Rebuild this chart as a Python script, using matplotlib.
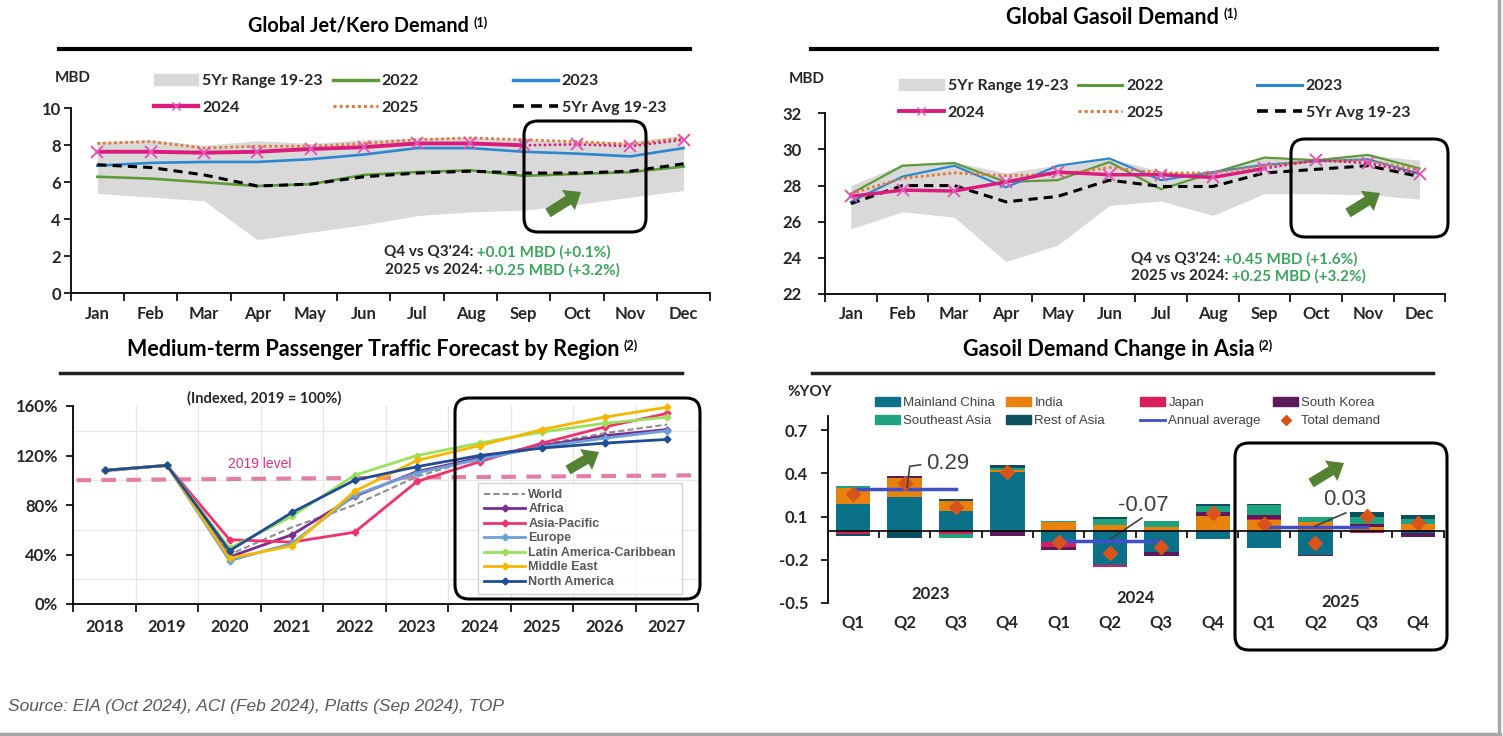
import numpy as np
import matplotlib
matplotlib.use('Agg')
import matplotlib.pyplot as plt
from matplotlib.patches import FancyBboxPatch, FancyArrow, Patch
from matplotlib.lines import Line2D
from matplotlib.legend import Legend

plt.rcParams['font.family'] = ['Lato', 'DejaVu Sans']

months = ['Jan', 'Feb', 'Mar', 'Apr', 'May', 'Jun', 'Jul', 'Aug', 'Sep', 'Oct', 'Nov', 'Dec']

# Global Jet/Kero demand (MBD)
jet_lo = [5.4, 5.2, 5.0, 2.9, 3.3, 3.7, 4.2, 4.4, 4.5, 4.8, 5.2, 5.55]
jet_hi = [8.2, 8.3, 8.0, 8.25, 8.1, 8.3, 8.4, 8.45, 8.3, 8.2, 8.2, 8.55]
jet_2022 = [6.3, 6.2, 6.0, 5.8, 5.9, 6.4, 6.55, 6.65, 6.35, 6.45, 6.55, 6.85]
jet_2023 = [6.9, 7.05, 7.1, 7.1, 7.25, 7.5, 7.85, 7.85, 7.65, 7.55, 7.4, 7.85]
jet_2024 = [7.65, 7.65, 7.6, 7.65, 7.8, 7.9, 8.1, 8.1, 8.0, 8.05, 7.95, 8.3]
jet_2025 = [8.1, 8.2, 7.85, 7.95, 7.95, 8.1, 8.3, 8.4, 8.3, 8.2, 8.05, 8.4]
jet_avg = [6.95, 6.8, 6.4, 5.8, 5.9, 6.3, 6.5, 6.6, 6.5, 6.5, 6.6, 7.0]

# Global gasoil demand (MBD)
gas_lo = [25.6, 26.55, 26.25, 23.8, 24.7, 26.9, 27.15, 26.35, 27.55, 27.55, 27.5, 27.25]
gas_hi = [28.0, 29.2, 29.3, 28.7, 29.15, 29.5, 28.8, 28.7, 29.6, 29.5, 29.7, 29.4]
gas_2022 = [27.55, 29.1, 29.25, 28.2, 28.3, 29.3, 27.8, 28.7, 29.55, 29.4, 29.7, 28.95]
gas_2023 = [27.1, 28.5, 29.1, 27.9, 29.1, 29.5, 28.3, 28.75, 29.15, 29.35, 29.45, 28.65]
gas_2024 = [27.4, 27.75, 27.7, 28.2, 28.75, 28.6, 28.6, 28.45, 28.95, 29.4, 29.25, 28.65]
gas_2025 = [27.55, 28.4, 28.7, 28.55, 28.6, 29.0, 28.7, 28.7, 29.1, 29.35, 29.4, 28.85]
gas_avg = [27.0, 28.0, 28.0, 27.1, 27.4, 28.3, 27.95, 27.95, 28.7, 28.9, 29.1, 28.5]

# Passenger traffic, indexed 2019 = 100%
years = ['2018', '2019', '2020', '2021', '2022', '2023', '2024', '2025', '2026', '2027']
world = [107, 112, 40, 62, 80, 103, 118, 129, 138, 145]
africa = [108, 112, 38, 56, 87, 107, 118, 128, 136, 141]
asia_pac = [108, 112, 52, 50, 58, 99, 115, 130, 143, 154]
europe = [108, 112, 35, 49, 88, 106, 117, 127, 134, 140]
latam = [108, 112, 45, 71, 104, 120, 130, 139, 146, 151]
mideast = [108, 112, 37, 47, 91, 116, 128, 141, 151, 159]
n_america = [108, 112, 43, 74, 100, 111, 120, 126, 130, 133]
level_2019 = [100, 104]

# Gasoil demand change in Asia (%YOY)
quarters = ['Q1', 'Q2', 'Q3', 'Q4'] * 3
qyears = ['2023', '2024', '2025']
china = [0.19, 0.235, 0.14, 0.41, -0.075, -0.24, -0.145, -0.055, -0.12, -0.165, 0.0, -0.015]
india = [0.11, 0.135, 0.065, 0.015, 0.06, 0.04, 0.03, 0.107, 0.075, 0.06, 0.03, 0.045]
japan = [-0.02, 0.0, -0.02, 0.0, -0.04, -0.01, 0.0, 0.0, 0.01, 0.0, -0.015, 0.0]
skorea = [0.0, 0.015, 0.0, -0.035, -0.015, 0.0, -0.03, 0.023, 0.025, -0.01, 0.015, -0.03]
se_asia = [0.01, 0.0, -0.03, 0.015, 0.01, 0.04, 0.04, 0.045, 0.07, 0.04, 0.05, 0.04]
rest_asia = [-0.015, -0.05, 0.015, 0.02, 0.0, 0.02, 0.0, 0.015, 0.01, 0.0, 0.035, 0.025]
total_dem = [0.26, 0.33, 0.165, 0.41, -0.075, -0.155, -0.115, 0.125, 0.05, -0.085, 0.105, 0.055]
annual_avg = [0.29, -0.07, 0.03]

c_rng = '#D9D9D9'
c22 = '#5E9A3A'
c23 = '#2B88D0'
c24 = '#DC1C7C'
c25 = '#E07B39'
c_txt = '#262626'
c_green = '#3BA55C'
c_arrow = '#548235'

W, H = 1503, 736
fig = plt.figure(figsize=(W / 100, H / 100), dpi=100)


def box(l, t, r, b):
    return [l / W, 1 - b / H, (r - l) / W, (b - t) / H]


ax1 = fig.add_axes(box(70.7, 108.3, 710.3, 293.3))
ax2 = fig.add_axes(box(825, 113.3, 1445.4, 294))
ax3 = fig.add_axes(box(73.3, 406, 698.3, 604))
ax4 = fig.add_axes(box(827.6, 416, 1443.8, 602.7))
ov = fig.add_axes([0, 0, 1, 1], zorder=10)
ov.set_xlim(0, W)
ov.set_ylim(H, 0)
ov.axis('off')
ov.patch.set_alpha(0)


def month_panel(ax, lo, hi, y22, y23, y24, y25, avg, ylim, ypad, lw):
    x = np.arange(len(months))
    ax.fill_between(x, lo, hi, color=c_rng, lw=0, zorder=1)
    ax.plot(x, y22, color=c22, lw=lw, zorder=3)
    ax.plot(x, y23, color=c23, lw=lw, zorder=3)
    ax.plot(x, avg, color='black', lw=2.2, ls=(0, (3, 2)), zorder=4)
    ax.plot(x, y25, color=c25, lw=2, ls=(0, (1, 1)), zorder=5)
    ax.plot(x[:9], y24[:9], color=c24, lw=lw + 0.9, zorder=6)
    ax.plot(x[8:], y24[8:], color=c24, lw=1.8, ls=(0, (1, 1)), zorder=6)
    ax.plot(x, y24, ls='none', marker='x', ms=8, mew=1.4, color='#E455B8', zorder=7)
    ax.set_xlim(-0.5, 11.5)
    ax.set_ylim(*ylim)
    ax.set_xticks(x)
    ax.set_xticklabels(months, fontsize=12, fontweight='bold', color=c_txt)
    ax.set_xticks(np.arange(-0.5, 12, 1), minor=True)
    ax.tick_params(axis='x', which='major', length=0, pad=9)
    ax.tick_params(axis='x', which='minor', length=6, width=1.2)
    ax.tick_params(axis='y', length=5, width=1.2, pad=ypad, labelsize=12)
    for s in ['top', 'right']:
        ax.spines[s].set_visible(False)
    for s in ['left', 'bottom']:
        ax.spines[s].set_linewidth(1.3)


month_panel(ax1, jet_lo, jet_hi, jet_2022, jet_2023, jet_2024, jet_2025, jet_avg, (0, 10), 2, 1.9)
ax1.set_yticks(range(0, 11, 2))
month_panel(ax2, gas_lo, gas_hi, gas_2022, gas_2023, gas_2024, gas_2025, gas_avg, (22, 32), 12, 1.6)
ax2.set_yticks(range(22, 33, 2))
for ax in (ax1, ax2):
    for lab in ax.get_yticklabels():
        lab.set_fontweight('bold')
        lab.set_color(c_txt)


def add_legend(handles, labels, x, y, fs, hl, ls, color=c_txt, weight='bold', family=None, **kw):
    prop = {'size': fs, 'weight': weight}
    if family:
        prop['family'] = family
    leg = Legend(ov, handles, labels, loc='upper left', bbox_to_anchor=(x, y),
                 bbox_transform=ov.transData, frameon=False, prop=prop,
                 handlelength=hl, handletextpad=0.25, labelspacing=ls,
                 borderpad=0, borderaxespad=0, **kw)
    for t in leg.get_texts():
        t.set_color(color)
    ov.add_artist(leg)
    return leg


def month_legend(xs, y, lw):
    h_rng = Patch(color=c_rng)
    h22 = Line2D([], [], color=c22, lw=lw + 0.6)
    h23 = Line2D([], [], color=c23, lw=lw + 0.6)
    h24 = Line2D([], [], color=c24, lw=lw + 1.2, marker='x', ms=6, mec='#E455B8', markevery=[1])
    h25 = Line2D([], [], color=c25, lw=2.2, ls=(0, (1, 1)))
    havg = Line2D([], [], color='black', lw=2.6, ls=(0, (3, 2)))
    add_legend([h_rng, h24], ['5Yr Range 19-23', '2024'], xs[0], y, 11.5, 2.8, 0.78)
    add_legend([h22, h25], ['2022', '2025'], xs[1], y, 11.5, 2.8, 0.78)
    add_legend([h23, havg], ['2023', '5Yr Avg 19-23'], xs[2], y, 11.5, 2.8, 0.78)


month_legend([153.6, 333, 513], 74, 1.9)
month_legend([899, 1077.5, 1257], 79, 1.6)

# passenger traffic
x3 = np.arange(len(years))
ax3.set_xlim(-0.5, 9.5)
ax3.set_ylim(0, 160)
ax3.set_yticks(range(0, 161, 40))
ax3.set_yticks(range(0, 161, 20), minor=True)
ax3.set_yticklabels([f'{v}%' for v in range(0, 161, 40)], fontsize=12, fontweight='bold', color=c_txt)
ax3.set_xticks(x3)
ax3.set_xticklabels(years, fontsize=12, fontweight='bold', color=c_txt)
ax3.set_xticks(np.arange(-0.5, 10, 1), minor=True)
ax3.tick_params(axis='x', which='major', length=0, pad=11)
ax3.tick_params(axis='x', which='minor', length=6, width=1.2)
ax3.tick_params(axis='y', which='major', length=5, width=1.2, pad=6)
ax3.tick_params(axis='y', which='minor', length=0)
ax3.grid(True, which='minor', color='#E6E6E6', lw=0.9)
ax3.set_axisbelow(True)
for s in ['top', 'right']:
    ax3.spines[s].set_visible(False)
for s in ['left', 'bottom']:
    ax3.spines[s].set_linewidth(1.3)

ax3.plot([-0.45, 9.5], level_2019, color='#E37FA5', lw=3, ls=(0, (3.5, 2.5)), zorder=2)
ax3.text(2.48, 113, '2019 level', color='#E0307A', fontsize=10, ha='center', va='center',
         family=['Liberation Sans', 'DejaVu Sans'])
ax3.text(2.55, 166, '(Indexed, 2019 = 100%)', color=c_txt, fontsize=10.5, fontweight='bold',
         ha='center', va='center')

pax_series = [
    ('World', world, '#8F8F8F'),
    ('Africa', africa, '#7B2D8E'),
    ('Asia-Pacific', asia_pac, '#F0336F'),
    ('Europe', europe, '#6CA0D8'),
    ('Latin America-Caribbean', latam, '#9BE05C'),
    ('Middle East', mideast, '#F5B800'),
    ('North America', n_america, '#1F4E96'),
]
pax_handles = []
for name, vals, col in pax_series:
    if name == 'World':
        h, = ax3.plot(x3, vals, color=col, lw=1.5, ls=(0, (3, 1.5)), zorder=3, clip_on=False)
    else:
        h, = ax3.plot(x3, vals, color=col, lw=2, marker='D', ms=3.5, zorder=4, clip_on=False)
    pax_handles.append(h)

leg3 = add_legend(pax_handles, [s[0] for s in pax_series], 484, 489, 9, 3.3, 0.2,
                  color='#595959', family=['Liberation Sans', 'DejaVu Sans'])
leg3.set_frame_on(True)
leg3.get_frame().set_edgecolor('#C8C8C8')
leg3.get_frame().set_facecolor('white')
leg3.get_frame().set_linewidth(1)
leg3.get_frame().set_boxstyle('square', pad=0.5)

# gasoil demand change in Asia
x4 = np.arange(len(quarters))
parts = [
    ('Mainland China', china, '#0B7189'),
    ('India', india, '#E8820C'),
    ('Japan', japan, '#D81E5B'),
    ('South Korea', skorea, '#5C1A5B'),
    ('Southeast Asia', se_asia, '#1FA37F'),
    ('Rest of Asia', rest_asia, '#0D4F5C'),
]
pos_base = np.zeros(len(x4))
neg_base = np.zeros(len(x4))
bar_handles = {}
for name, vals, col in parts:
    v = np.array(vals)
    base = np.where(v >= 0, pos_base, neg_base)
    ax4.bar(x4, v, 0.67, bottom=base, color=col, lw=0, zorder=2)
    pos_base += np.clip(v, 0, None)
    neg_base += np.clip(v, None, 0)
    bar_handles[name] = Patch(color=col)

for i, val in enumerate(annual_avg):
    ax4.plot([4 * i, 4 * i + 2], [val, val], color='#3F4FC9', lw=2.5, zorder=3)
ax4.plot(x4, total_dem, ls='none', marker='D', ms=7, color='#D9541A', zorder=4)

ax4.set_xlim(-0.5, 11.5)
ax4.set_ylim(-0.5, 0.8)
ax4.set_yticks([0.7, 0.4, 0.1, -0.2, -0.5])
ax4.set_yticklabels(['0.7', '0.4', '0.1', '-0.2', '-0.5'], fontsize=12, fontweight='bold', color=c_txt)
ax4.tick_params(axis='y', length=5, width=1.2, pad=9)
ax4.spines['bottom'].set_position(('data', 0))
ax4.spines['bottom'].set_linewidth(1.2)
ax4.spines['bottom'].set_zorder(5)
ax4.spines['left'].set_linewidth(1.3)
ax4.spines['top'].set_visible(False)
ax4.spines['right'].set_visible(False)
ax4.set_xticks(np.arange(0.5, 12, 1))
ax4.set_xticklabels([])
ax4.tick_params(axis='x', length=5, width=1.2)
for i, q in enumerate(quarters):
    ax4.text(i, -0.64, q, fontsize=12, fontweight='bold', color=c_txt, ha='center', va='center')
for i, (yr, yy) in enumerate(zip(qyears, [-0.44, -0.465, -0.495])):
    ax4.text(4 * i + 1.5, yy, yr, fontsize=12, fontweight='bold', color=c_txt, ha='center', va='center')

lab_font = ['Liberation Sans', 'DejaVu Sans']
ax4.plot([1.05, 1.1, 1.31], [0.305, 0.45, 0.46], color='#404040', lw=1.2, zorder=5)
ax4.text(1.42, 0.47, '0.29', fontsize=16, color='#404040', va='center', ha='left', family=lab_font)
ax4.plot([5.02, 5.62], [-0.055, 0.09], color='#404040', lw=1.2, zorder=5)
ax4.text(5.65, 0.18, '-0.07', fontsize=16, color='#404040', va='center', ha='center', family=lab_font)
ax4.plot([8.99, 9.59], [0.033, 0.125], color='#404040', lw=1.2, zorder=5)
ax4.text(9.57, 0.22, '0.03', fontsize=16, color='#404040', va='center', ha='center', family=lab_font)

h_avg = Line2D([], [], color='#3F4FC9', lw=2)
h_tot = Line2D([], [], ls='none', marker='D', ms=5, color='#D9541A')
leg_cols = [
    (['Mainland China', 'Southeast Asia'], 874.5),
    (['India', 'Rest of Asia'], 1006),
    (['Japan', 'Annual average'], 1140),
    (['South Korea', 'Total demand'], 1273),
]
for names, lx in leg_cols:
    hs = [bar_handles.get(n, h_avg if n == 'Annual average' else h_tot) for n in names]
    add_legend(hs, names, lx, 397, 9.5, 1.9, 0.45, color='#404040', weight='normal', family=lab_font)

# titles, rules and labels
def title(x, y, text, sup, fs=14):
    t = ov.text(x, y, text, fontsize=fs, fontweight='bold', color='black', ha='left', va='center')
    ov.annotate(sup, xy=(1, 1), xycoords=t, xytext=(3, 0), textcoords='offset points',
                fontsize=9, fontweight='bold', ha='left', va='top')


title(248, 26, 'Global Jet/Kero Demand', '(1)', 14.3)
title(1006, 18, 'Global Gasoil Demand', '(1)', 15.5)
title(127, 350, 'Medium-term Passenger Traffic Forecast by Region', '(2)', 15.5)
title(963, 350, 'Gasoil Demand Change in Asia', '(2)', 15.5)

ov.plot([59, 690], [49, 49], color='black', lw=3)
ov.plot([811, 1437], [49, 49], color='black', lw=3)
ov.plot([60, 682], [373, 373], color='#202020', lw=2.5)
ov.plot([812, 1433], [373, 373], color='#202020', lw=2.5)

ov.text(55, 78, 'MBD', fontsize=11, fontweight='bold', color=c_txt, ha='left', va='center')
ov.text(789, 79, 'MBD', fontsize=11, fontweight='bold', color=c_txt, ha='left', va='center')
ov.text(787, 392, '%YOY', fontsize=11, fontweight='bold', color=c_txt, ha='left', va='center')


def two_tone(x, y, black, green):
    t = ov.text(x, y, black, fontsize=11, fontweight='bold', color=c_txt, ha='left', va='center')
    ov.annotate(green, xy=(1, 0.5), xycoords=t, fontsize=11, fontweight='bold', color=c_green,
                ha='left', va='center')


two_tone(384, 252, "Q4 vs Q3'24:", ' +0.01 MBD (+0.1%)')
two_tone(385, 270, '2025 vs 2024:', ' +0.25 MBD (+3.2%)')
two_tone(1131, 259, "Q4 vs Q3'24:", ' +0.45 MBD (+1.6%)')
two_tone(1131, 276, '2025 vs 2024:', ' +0.25 MBD (+3.2%)')

# highlight boxes and arrows
for l, t, r, b in [(524, 121, 646, 232), (1291, 139, 1448, 237), (455, 398, 700, 599), (1235, 443, 1447, 650)]:
    ov.add_patch(FancyBboxPatch((l, t), r - l, b - t, boxstyle='round,pad=0,rounding_size=14',
                                fc='none', ec='black', lw=2.2))
for x0, y0, x1, y1 in [(548, 213, 581, 192), (1348, 213, 1380, 193), (568, 470, 599, 452), (1311, 483, 1344, 463)]:
    ov.add_patch(FancyArrow(x0, y0, x1 - x0, y1 - y0, width=10, head_width=24, head_length=15,
                            length_includes_head=True, color=c_arrow, lw=0))

ov.text(8, 706, 'Source: EIA (Oct 2024), ACI (Feb 2024), Platts (Sep 2024), TOP', fontsize=12.5,
        style='italic', color='#595959', ha='left', va='center', family=lab_font)

ov.plot([1498.5, 1498.5], [0, 734], color='#A6A6A6', lw=2.5)
ov.plot([0, 1500], [733.5, 733.5], color='#A6A6A6', lw=2.5)

fig.savefig('out.png', dpi=100)
